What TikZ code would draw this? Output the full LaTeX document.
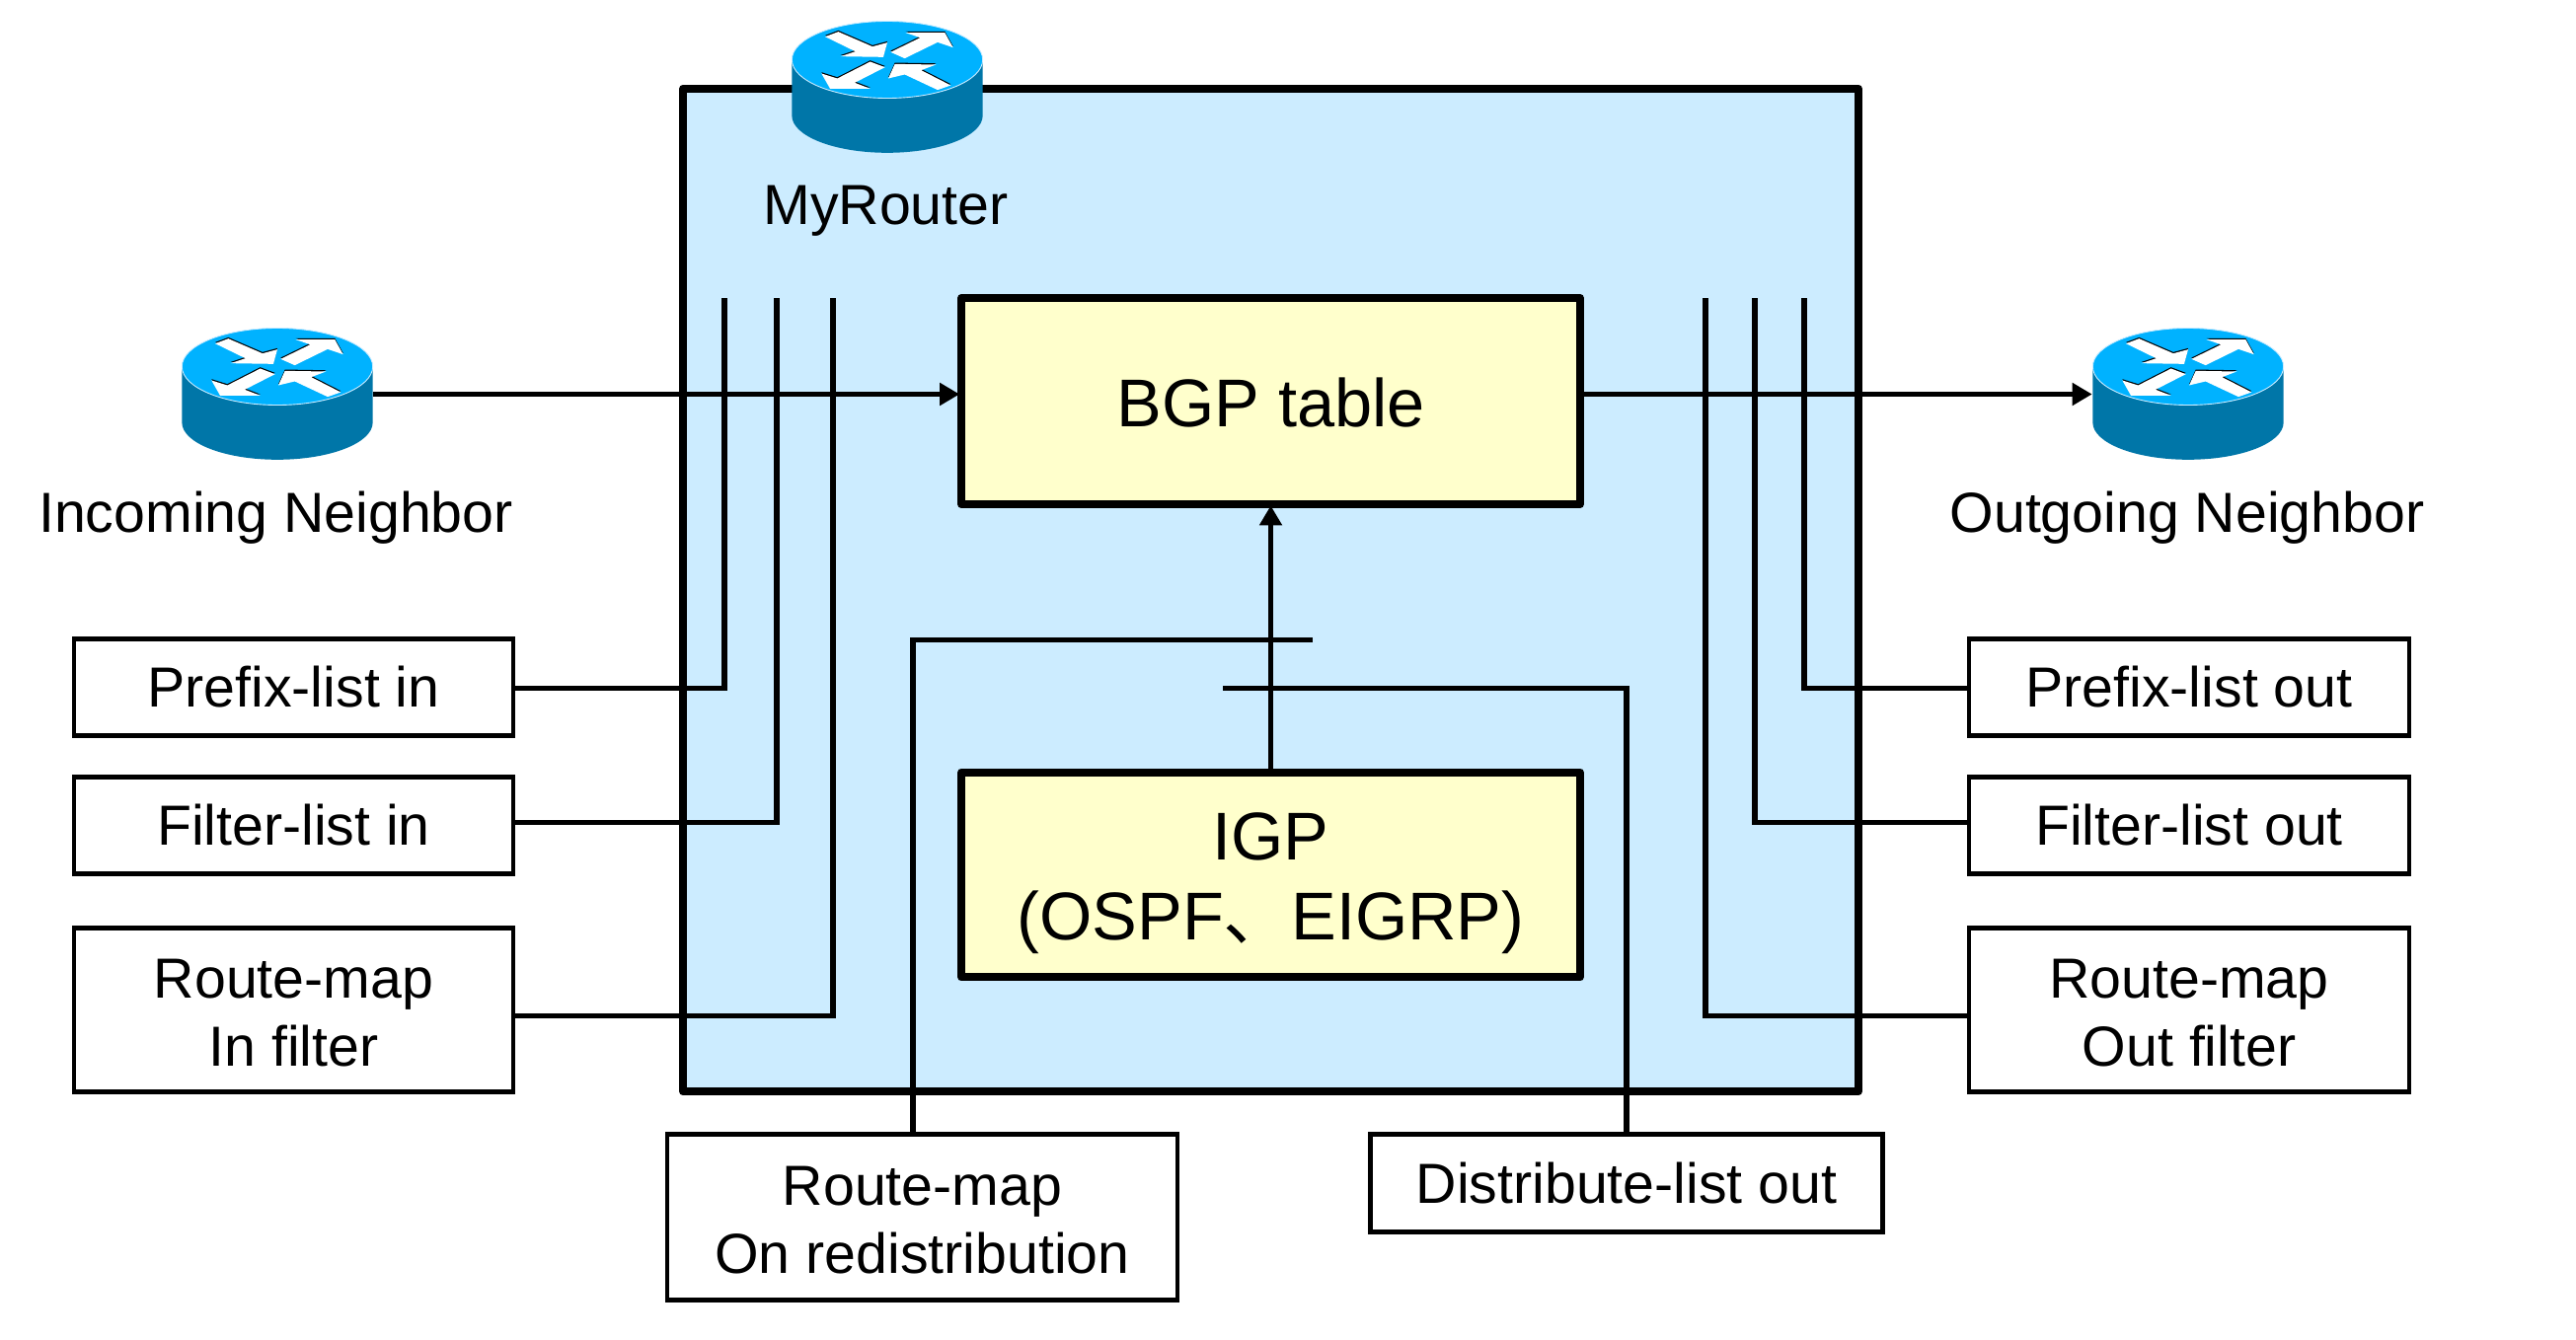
\documentclass[tikz,border=0pt]{standalone}
\usepackage{fontspec}
\setmainfont{Liberation Sans}
\newfontfamily\cjkfont{Noto Sans CJK SC}
\usetikzlibrary{arrows.meta}
\definecolor{routerpanel}{RGB}{204,236,255}
\definecolor{tablefill}{RGB}{255,255,204}
\definecolor{routertop}{RGB}{0,178,255}
\definecolor{routerside}{RGB}{0,118,168}
\newcommand{\topstrut}[1]{\rule{0pt}{#1}}
\tikzset{
  x=0.02cm,y=-0.02cm,
  mainpanel/.style={draw=black,line width=4.55pt,fill=routerpanel,line join=round},
  tablebox/.style={draw=black,line width=4.55pt,fill=tablefill,line join=round,align=center,inner sep=0pt,
    minimum width=627*0.569pt,font=\fontsize{39}{46.5}\selectfont},
  filterbox/.style={draw=black,line width=2.6pt,fill=white,align=center,inner sep=0pt,
    font=\fontsize{32.6}{39.4}\selectfont},
  plainlabel/.style={inner sep=0pt,font=\fontsize{32.6}{39.4}\selectfont},
  conn/.style={line width=2.9pt,line cap=butt,line join=miter},
  flow/.style={conn,-{Triangle[length=11.4pt,width=12.5pt]}},
  routerbody/.style={minimum width=194*0.569pt,minimum height=132*0.569pt,inner sep=0pt},
  arrowglyph/.pic={
    \begin{scope}[shift={(-139,-88)},scale=1/3]
      \fill[routerside] (127,180) -- (127,350) arc[start angle=180,end angle=0,x radius=290,y radius=113] -- (707,180) -- cycle;
      \fill[routertop,draw=routerpanel,line width=0.5pt] (417,180) ellipse[x radius=290,y radius=117];
      \foreach \dy/\col in {2.2pt/black,0pt/white}{
        \begin{scope}[yshift=\dy]
        \fill[\col] (228,110) -- (268,95) -- (372,140) -- (417,128) -- (405,172) -- (275,170) -- (320,155) -- cycle;
        \fill[\col] (427,157) -- (517,113) -- (473,98) -- (592,98) -- (617,143) -- (570,127) -- (470,176) -- cycle;
        \fill[\col] (410,203) -- (365,186) -- (265,237) -- (217,222) -- (243,268) -- (365,268) -- (318,250) -- cycle;
        \fill[\col] (610,258) -- (520,212) -- (565,195) -- (440,193) -- (420,237) -- (470,225) -- (570,272) -- cycle;
        \end{scope}
      }
    \end{scope}
  }
}
\begin{document}
\begin{tikzpicture}
\useasboundingbox (0,-1.5) rectangle (2610,1356.5);
% panel
\node[mainpanel,minimum width=1191*0.569pt,minimum height=1017*0.569pt,inner sep=0pt] (panel) at (1287.5,596.5) {};
% routers
\node[routerbody] (myrouter) at (899,87) {};
\node[routerbody] (inrouter) at (281,398) {};
\node[routerbody] (outrouter) at (2217,398) {};
% tables
\node[tablebox,minimum height=209*0.569pt] (bgp) at (1287.5,405) {\topstrut{30.5pt}BGP table};
\node[tablebox,minimum height=208*0.569pt] (igp) at (1287.5,885) {\topstrut{37pt}IGP\\(OSPF{\cjkfont 、}EIGRP)};
% labels
\node[plainlabel] (myrouterlabel) at (897.5,212) {MyRouter};
\node[plainlabel] (inlabel) at (279.5,523) {Incoming Neighbor};
\node[plainlabel] (outlabel) at (2216,523) {Outgoing Neighbor};
% filter boxes
\node[filterbox,minimum width=445*0.569pt,minimum height=98*0.569pt] (prefixin) at (297.5,695) {Prefix-list in};
\node[filterbox,minimum width=445*0.569pt,minimum height=98*0.569pt] (filterin) at (297.5,835) {Filter-list in};
\node[filterbox,minimum width=445*0.569pt,minimum height=166*0.569pt] (mapin) at (297.5,1022) {\topstrut{25.5pt}Route-map\\In filter};
\node[filterbox,minimum width=446*0.569pt,minimum height=98*0.569pt] (prefixout) at (2218,695) {Prefix-list out};
\node[filterbox,minimum width=446*0.569pt,minimum height=98*0.569pt] (filterout) at (2218,835) {Filter-list out};
\node[filterbox,minimum width=446*0.569pt,minimum height=166*0.569pt] (mapout) at (2218,1022) {\topstrut{25.5pt}Route-map\\Out filter};
\node[filterbox,minimum width=517*0.569pt,minimum height=168*0.569pt] (mapredis) at (934.5,1232) {\topstrut{25.5pt}Route-map\\On redistribution};
\node[filterbox,minimum width=519*0.569pt,minimum height=99*0.569pt] (distout) at (1648,1197.5) {Distribute-list out};
% free ends and junctions
\coordinate (pitop) at (734,301); \coordinate (pibot) at (734,696);
\coordinate (fitop) at (787,301); \coordinate (fibot) at (787,832);
\coordinate (mitop) at (844,301); \coordinate (mibot) at (844,1028);
\coordinate (potop) at (1828,301); \coordinate (pobot) at (1828,696);
\coordinate (fotop) at (1778,301); \coordinate (fobot) at (1778,832);
\coordinate (motop) at (1728,301); \coordinate (mobot) at (1728,1028);
\coordinate (redisend) at (1330,647); \coordinate (rediscorner) at (925,647);
\coordinate (distend) at (1239,696); \coordinate (distcorner) at (1648,696);
% connectors
\draw[flow,shorten >=-1.2pt] (inrouter.east) -- (bgp.west |- inrouter.east);
\draw[flow] (bgp.east |- outrouter.west) -- (outrouter.west);
\draw[flow,shorten >=-1.5pt] (igp.north) -- (bgp.south);
\draw[conn] (prefixin.east |- pibot) -- (pibot) -- (pitop);
\draw[conn] (filterin.east |- fibot) -- (fibot) -- (fitop);
\draw[conn] (mapin.east |- mibot) -- (mibot) -- (mitop);
\draw[conn] (prefixout.west |- pobot) -- (pobot) -- (potop);
\draw[conn] (filterout.west |- fobot) -- (fobot) -- (fotop);
\draw[conn] (mapout.west |- mobot) -- (mobot) -- (motop);
\draw[conn] (mapredis.north -| rediscorner) -- (rediscorner) -- (redisend);
\draw[conn] (distout.north -| distcorner) -- (distcorner) -- (distend);
% router glyphs
\pic at (myrouter) {arrowglyph};
\pic at (inrouter) {arrowglyph};
\pic at (outrouter) {arrowglyph};
\end{tikzpicture}
\end{document}
